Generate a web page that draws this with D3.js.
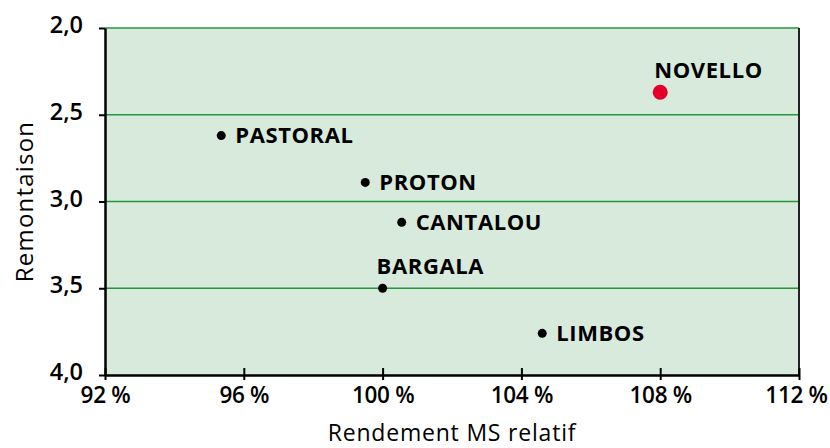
<!DOCTYPE html>
<html>
<head>
<meta charset="utf-8">
<script src="https://cdn.jsdelivr.net/npm/d3@7"></script>
<style>
  body { margin: 0; background: #fff; }
  text { font-family: "Open Sans", sans-serif; fill: #000; }
</style>
</head>
<body>
<div id="chart"></div>
<script>
/* CONSTANTS */
const width = 830,
  height = 448,
  margin = { top: 28, bottom: 73, left: 105, right: 31 };

/* DATA */
const varieties = ["NOVELLO", "PASTORAL", "PROTON", "CANTALOU", "BARGALA", "LIMBOS"];
const rendement = [108.0, 95.35, 99.5, 100.55, 100.0, 104.6];   // % relatif
const remontaison = [2.37, 2.62, 2.89, 3.12, 3.5, 3.76];
const highlight = ["NOVELLO"];
const xTicks = [92, 96, 100, 104, 108, 112];
const yTicks = [2.0, 2.5, 3.0, 3.5, 4.0];

// label placement: right of dot, or above it
const labelPos = ["above", "right", "right", "right", "above", "right"];

const points = varieties.map((name, i) => ({
  name, x: rendement[i], y: remontaison[i], pos: labelPos[i]
}));

const svg = d3.select("#chart")
  .append("svg")
  .attr("width", width)
  .attr("height", height);

const xScale = d3.scaleLinear()
  .domain([92, 112])
  .range([margin.left, width - margin.right]);

const yScale = d3.scaleLinear()
  .domain([2, 4])
  .range([margin.top, height - margin.bottom]);

// plot background
svg.append("rect")
  .attr("x", xScale(92))
  .attr("y", yScale(2))
  .attr("width", xScale(112) - xScale(92))
  .attr("height", yScale(4) - yScale(2))
  .attr("fill", "#d8eadb");

// horizontal grid lines
svg.selectAll("line.grid")
  .data(yTicks.filter(d => d < 4))
  .join("line")
  .attr("class", "grid")
  .attr("x1", xScale(92))
  .attr("x2", xScale(112))
  .attr("y1", d => yScale(d))
  .attr("y2", d => yScale(d))
  .attr("stroke", "#23963f")
  .attr("stroke-width", 1.6);

// right border
svg.append("line")
  .attr("x1", xScale(112)).attr("x2", xScale(112))
  .attr("y1", yScale(2)).attr("y2", yScale(4))
  .attr("stroke", "#222")
  .attr("stroke-width", 2);

// AXES
const xAxis = d3.axisBottom(xScale)
  .tickValues(xTicks)
  .tickSize(-7)
  .tickSizeOuter(0)
  .tickFormat(d => d + " %");

const xAxisGroup = svg.append("g")
  .attr("transform", `translate(0, ${yScale(4)})`)
  .call(xAxis);

xAxisGroup.selectAll(".tick line").attr("y1", 5).attr("stroke-width", 2);
xAxisGroup.select(".domain").attr("stroke-width", 2.5);
xAxisGroup.selectAll(".tick text")
  .attr("y", 12)
  .attr("dy", "0.73em")
  .attr("dx", d => d === 112 ? -3 : 0)
  .style("font-size", "22.5px")
  .style("font-weight", 600)
  .style("letter-spacing", "-0.3px")
  .style("font-family", "'Open Sans', sans-serif");

const yAxis = d3.axisLeft(yScale)
  .tickValues(yTicks)
  .tickSize(6)
  .tickSizeOuter(0)
  .tickPadding(16)
  .tickFormat(d => d3.format(".1f")(d).replace(".", ","));

const yAxisGroup = svg.append("g")
  .attr("transform", `translate(${xScale(92)}, 0)`)
  .call(yAxis);

yAxisGroup.select(".domain").attr("stroke-width", 2.5);
yAxisGroup.selectAll(".tick line").attr("stroke-width", 2);
yAxisGroup.selectAll(".tick text")
  .attr("dy", "0.2em")
  .style("font-size", "23.5px")
  .style("font-weight", 600)
  .style("font-family", "'Open Sans', sans-serif");

// axis titles
svg.append("text")
  .attr("x", (xScale(92) + xScale(112)) / 2)
  .attr("y", 441)
  .attr("text-anchor", "middle")
  .style("font-size", "23px")
  .style("font-weight", 500)
  .style("letter-spacing", "0.8px")
  .text("Rendement MS relatif");

svg.append("text")
  .attr("transform", `translate(33, ${(yScale(2) + yScale(4)) / 2}) rotate(-90)`)
  .attr("text-anchor", "middle")
  .style("font-size", "24px")
  .style("font-weight", 500)
  .style("letter-spacing", "1.2px")
  .text("Remontaison");

// POINTS
svg.selectAll("circle.point")
  .data(points)
  .join("circle")
  .attr("class", "point")
  .attr("cx", d => xScale(d.x))
  .attr("cy", d => yScale(d.y))
  .attr("r", d => highlight.includes(d.name) ? 7.5 : 4.5)
  .attr("fill", d => highlight.includes(d.name) ? "#e4002b" : "#000");

// LABELS
svg.selectAll("text.label")
  .data(points)
  .join("text")
  .attr("class", "label")
  .attr("x", d => d.pos === "right" ? xScale(d.x) + 14 : xScale(d.x) - 6)
  .attr("y", d => d.pos === "right" ? yScale(d.y) : yScale(d.y) - 14)
  .attr("dy", d => d.pos === "right" ? "0.36em" : "0")
  .style("font-size", "22px")
  .style("font-weight", 700)
  .style("letter-spacing", "0.6px")
  .text(d => d.name);
</script>
</body>
</html>
